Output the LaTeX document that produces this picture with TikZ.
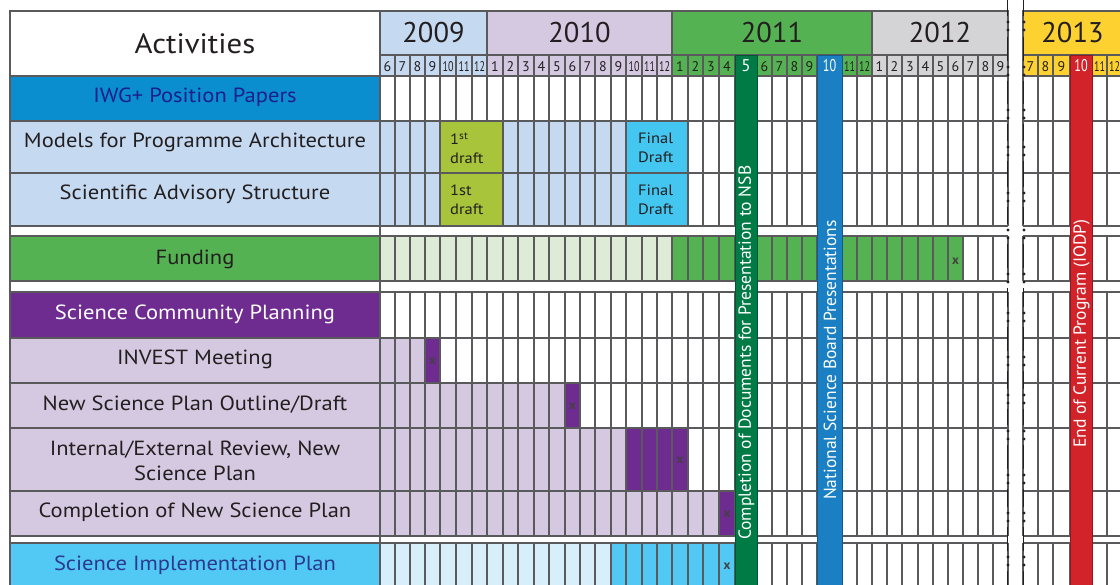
\documentclass[tikz,border=0pt]{standalone}
\usepackage{fontspec}
\setmainfont{PT Sans}
\newfontfamily\labfont{PT Sans}[FakeStretch=1.1]
\definecolor{txt}{HTML}{231F20}
\definecolor{gridc}{HTML}{5A5A5C}
\definecolor{yr09}{HTML}{C5D9F1}
\definecolor{yr10}{HTML}{D5C9E1}
\definecolor{yr11}{HTML}{55B252}
\definecolor{yr12}{HTML}{D4D4D6}
\definecolor{yr13}{HTML}{FDD130}
\definecolor{iwg}{HTML}{0A8ED0}
\definecolor{iwgtxt}{HTML}{1C1E8C}
\definecolor{lblue}{HTML}{C5D9F1}
\definecolor{olive}{HTML}{A7C43A}
\definecolor{cyanF}{HTML}{43C6F0}
\definecolor{fgreen}{HTML}{55B252}
\definecolor{lgreen}{HTML}{DDEBD7}
\definecolor{purp}{HTML}{6E2C90}
\definecolor{lpurp}{HTML}{D5C9E1}
\definecolor{scyan}{HTML}{52C8F4}
\definecolor{lcyan}{HTML}{D7EFFA}
\definecolor{scitxt}{HTML}{2B3A8F}
\definecolor{bargreen}{HTML}{007B45}
\definecolor{barblue}{HTML}{1B80C3}
\definecolor{barred}{HTML}{D2232A}
\newcommand\nn[1]{\scalebox{0.72}[1]{#1}}
\def\edges{380,395,410,425,440,456,472,487,503,518,534,549,565,580,595,611,626,642,657,672,688,703,719,735,757,772,787,802,817,842,857,872,887,902,918,933,948,963,978,993,1008,1023,1038,1053,1070,1092,1107,1122}
\newcommand\gridrow[2]{%
  \foreach \e in \edges {\draw[gridline] (\e,#1) -- (\e,#2);}
  \draw[gridline] (380,#1) -- (1008,#1) (380,#2) -- (1008,#2)
                  (1023,#1) -- (1125,#1) (1023,#2) -- (1125,#2);}
\tikzset{
  gridline/.style={draw=gridc, line width=1.2pt},
  lab/.style={font=\labfont\fontsize{20.5}{25}\selectfont, text=txt, inner sep=0pt, anchor=base, align=center},
  yr/.style={font=\fontsize{28.5}{30}\selectfont, text=txt, inner sep=0pt},
  mon/.style={font=\fontsize{14}{15}\selectfont, text=txt, inner sep=0pt, anchor=base},
  barnum/.style={font=\fontsize{17}{18}\selectfont, text=white, inner sep=0pt, anchor=base},
  bartxt/.style={font=\fontsize{17.5}{20}\selectfont, text=white, inner sep=0pt, rotate=90, anchor=west},
  draftlab/.style={font=\labfont\fontsize{15}{19}\selectfont, text=txt, inner sep=0pt, anchor=north west, align=left},
  xmark/.style={font=\fontsize{13}{13}\selectfont\bfseries, text=txt!85, inner sep=0pt},
  brk/.style={draw=txt, line width=1.1pt},
}
\begin{document}
\begin{tikzpicture}[x=1pt,y=-1pt]
\useasboundingbox[fill=white] (0,0) rectangle (1120,585);
\clip (0,0) rectangle (1120,585);
% ---- label column
\foreach \t/\b/\c in {11/76/white,76/121/iwg,121/173/lblue,173/226/lblue,236/281/fgreen,292/338/purp,338/383/lpurp,383/428/lpurp,428/491/lpurp,491/536/lpurp,543/600/scyan}
  {\draw[gridline, fill=\c] (10,\t) rectangle (380,\b);}
\draw[gridline] (10,11) -- (10,590) (380,11) -- (380,590);
\node[lab, font=\labfont\fontsize{28}{30}\selectfont] (lAct) at (195,54) {Activities};
\node[lab, text=iwgtxt] (lIWG) at (195,103) {IWG+ Position Papers};
\node[lab] (lMod) at (195,147.5) {Models for Programme Architecture};
\node[lab] (lSci) at (195,200) {Scientific Advisory Structure};
\node[lab] (lFun) at (195,265) {Funding};
\node[lab, text=white] (lSCP) at (195,320) {Science Community Planning};
\node[lab] (lInv) at (195,365) {INVEST Meeting};
\node[lab] (lOut) at (195,410) {New Science Plan Outline/Draft};
\node[lab] (lRev) at (195,480) {Internal/External Review, New\\Science Plan};
\node[lab] (lCom) at (195,517) {Completion of New Science Plan};
\node[lab, text=scitxt] (lImp) at (195,570) {Science Implementation Plan};
% ---- year header
\draw[gridline, fill=yr09] (380,11) rectangle (487,55);
\draw[gridline, fill=yr10] (487,11) rectangle (672,55);
\draw[gridline, fill=yr11] (672,11) rectangle (872,55);
\draw[gridline, fill=yr12] (872,11) rectangle (1008,55);
\draw[gridline, fill=yr13] (1023,11) rectangle (1126,55);
\node[yr] (y09) at (433.5,33) {2009};
\node[yr] (y10) at (579.5,33) {2010};
\node[yr] (y11) at (772,33) {2011};
\node[yr] (y12) at (940,33) {2012};
\node[yr] (y13) at (1072.5,33) {2013};
% ---- month row
\foreach \a/\b/\m/\c in {380/395/6/yr09,395/410/7/yr09,410/425/8/yr09,425/440/9/yr09,440/456/{\nn{10}}/yr09,456/472/{\nn{11}}/yr09,472/487/{\nn{12}}/yr09,
 487/503/1/yr10,503/518/2/yr10,518/534/3/yr10,534/549/4/yr10,549/565/5/yr10,565/580/6/yr10,580/595/7/yr10,595/611/8/yr10,611/626/9/yr10,626/642/{\nn{10}}/yr10,642/657/{\nn{11}}/yr10,657/672/{\nn{12}}/yr10,
 672/688/1/yr11,688/703/2/yr11,703/719/3/yr11,719/735/4/yr11,757/772/6/yr11,772/787/7/yr11,787/802/8/yr11,802/817/9/yr11,842/857/{\nn{11}}/yr11,857/872/{\nn{12}}/yr11,
 872/887/1/yr12,887/902/2/yr12,902/918/3/yr12,918/933/4/yr12,933/948/5/yr12,948/963/6/yr12,963/978/7/yr12,978/993/8/yr12,993/1008/9/yr12,
 1023/1038/7/yr13,1038/1053/8/yr13,1053/1070/9/yr13,1092/1107/{\nn{11}}/yr13,1107/1122/{\nn{12}}/yr13}
 {\fill[\c] (\a,55) rectangle (\b,76);
  \node[mon] (m\a) at ({(\a+\b)/2},72) {\m};}
\gridrow{55}{76}
% ---- row fills
\fill[lblue] (380,121) rectangle (626,226);
\fill[lgreen] (380,236) rectangle (672,281);
\fill[fgreen] (672,236) rectangle (963,281);
\fill[lpurp] (380,338) rectangle (425,383);
\fill[purp] (425,338) rectangle (440,383);
\fill[lpurp] (380,383) rectangle (565,428);
\fill[purp] (565,383) rectangle (580,428);
\fill[lpurp] (380,428) rectangle (626,491);
\fill[purp] (626,428) rectangle (688,491);
\fill[lpurp] (380,491) rectangle (719,536);
\fill[purp] (719,491) rectangle (735,536);
\fill[lcyan] (380,543) rectangle (611,590);
\fill[scyan] (611,543) rectangle (735,590);
% ---- grid rows
\gridrow{76}{121}
\gridrow{121}{173}
\gridrow{173}{226}
\gridrow{236}{281}
\gridrow{292}{338}
\gridrow{338}{383}
\gridrow{383}{428}
\gridrow{428}{491}
\gridrow{491}{536}
\gridrow{543}{595}
% olive / cyan blocks without inner lines
\foreach \t/\b in {121/173,173/226}{
  \draw[gridline, fill=olive] (440,\t) rectangle (503,\b);
  \draw[gridline, fill=cyanF] (626,\t) rectangle (688,\b);}
\node[draftlab] (d1) at (450,133) {1\textsuperscript{st}\\draft};
\node[draftlab] (f1) at (638,133) {Final\\Draft};
\node[draftlab] (d2) at (450,185) {1st\\draft};
\node[draftlab] (f2) at (638,185) {Final\\Draft};
% ---- x markers
\node[xmark] (x1) at (955.5,261) {x};
\node[xmark] (x2) at (432.5,361) {x};
\node[xmark] (x3) at (572.5,406.5) {x};
\node[xmark] (x4) at (680,460.5) {x};
\node[xmark] (x5) at (727,514) {x};
\node[xmark] (x6) at (727,566.5) {x};
% ---- vertical bars
\draw[fill=bargreen, draw=bargreen!70!black, line width=0.8pt] (735,55) rectangle (757,600);
\draw[fill=barblue, draw=barblue!70!black, line width=0.8pt] (817,55) rectangle (842,600);
\draw[fill=barred, draw=barred!70!black, line width=0.8pt] (1070,55) rectangle (1092,600);
\node[barnum] (b5) at (746,72) {5};
\node[barnum] (b10) at (829.5,72) {\nn{10}};
\node[barnum] (b13) at (1081,72) {\nn{10}};
\node[bartxt] (tNSB) at (746.5,540) {Completion of Documents for Presentation to NSB};
\node[bartxt] (tBoard) at (830,500) {National Science Board Presentations};
\node[bartxt] (tEnd) at (1081.5,448) {End of Current Program (IODP)};
% ---- axis break
\fill[white] (1008.6,-1) rectangle (1022.4,600);
\foreach \xx in {1007.5,1023.5}{
  \foreach \s/\e in {0/16,37/61,81/104,124/141,161/187,207/224,244/268,288/307,327/351,371/389,409/425,445/469,489/507,527/551,571/590}
    {\draw[brk] (\xx,\s) -- (\xx,\e);}
  \foreach \p in {22,67,110,147,193,230,274,313,357,395,431,475,513,557}
    {\fill[txt] (\xx+0.5,\p) circle (1.6); \fill[txt] (\xx+0.5,\p+8) circle (1.6);}
}
\end{tikzpicture}
\end{document}
